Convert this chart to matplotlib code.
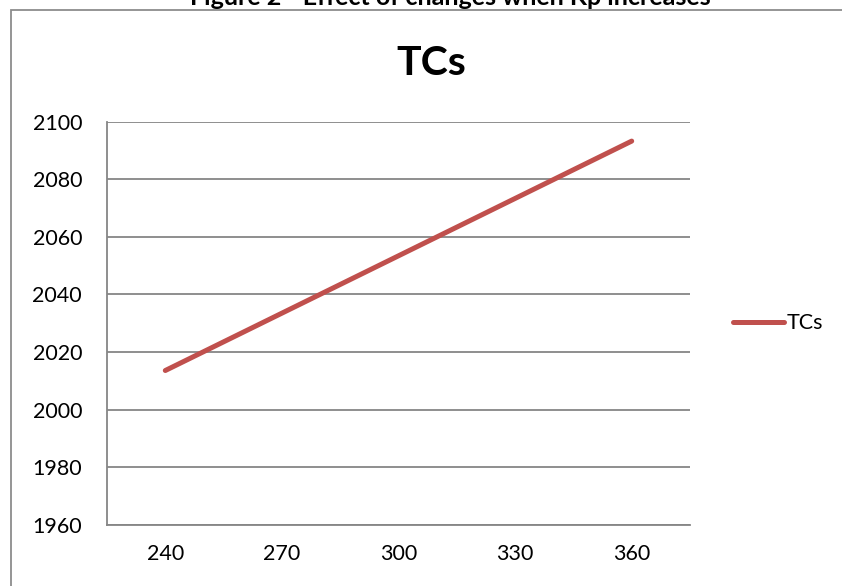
import matplotlib
matplotlib.use("Agg")
import matplotlib.pyplot as plt
from matplotlib.patches import Rectangle

# data for the TCs series
categories = ["240", "270", "300", "330", "360"]
tcs = [2013.6, 2033.5, 2053.4, 2073.3, 2093.2]
yticks = [1960, 1980, 2000, 2020, 2040, 2060, 2080, 2100]

plt.rcParams['font.family'] = ['Lato', 'DejaVu Sans']

fig = plt.figure(figsize=(8.42, 5.86), dpi=100)

# caption above the chart box (clipped by the page edge)
fig.text(450/842, 1 - 4.7/586, "Figure 2 - Effect of changes when Kp increases",
         ha='center', va='baseline', fontsize=18, fontweight='bold')

# chart border
fig.patches.append(Rectangle((11/842, -0.02), 1.1, 1 - 9.5/586 + 0.02,
                             transform=fig.transFigure, fill=False,
                             edgecolor='#8c8c8c', linewidth=1.3))

ax = fig.add_axes([107/842, 1 - 525/586, (690 - 107)/842, (525 - 121.5)/586])
x = list(range(len(categories)))
ax.plot(x, tcs, color='#C0504D', linewidth=3.6, solid_capstyle='round',
        label='TCs')

ax.set_xlim(-0.5, len(categories) - 0.5)
ax.set_ylim(1960, 2100)
ax.set_xticks(x)
ax.set_xticklabels(categories)
ax.set_yticks(yticks)
ax.grid(axis='y', color='#868686', linewidth=1.3)
ax.set_axisbelow(True)
ax.tick_params(length=0, labelsize=15.5, pad=14)
ax.tick_params(axis='y', pad=18)
for side in ['top', 'right']:
    ax.spines[side].set_visible(False)
for side in ['left', 'bottom']:
    ax.spines[side].set_color('#868686')
    ax.spines[side].set_linewidth(1.3)

fig.text(431/842, 1 - 75/586, "TCs", ha='center', va='baseline',
         fontsize=29.5, fontweight='bold')

ax.legend(loc='center left', bbox_to_anchor=(1.04, 0.5), frameon=False,
          fontsize=15.5, handlelength=2.4, handletextpad=0.1)

fig.savefig("out.png", dpi=100)
